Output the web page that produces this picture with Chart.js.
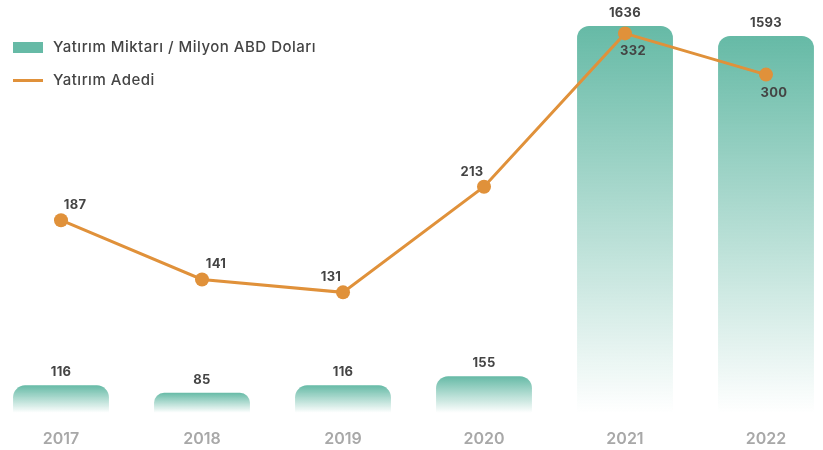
<!DOCTYPE html>
<html>
<head>
<meta charset="utf-8">
<script src="https://cdn.jsdelivr.net/npm/chart.js@4"></script>
<style>
  html, body { margin: 0; padding: 0; background: #fff; }
  #wrap { width: 823px; height: 450px; position: relative; }
</style>
</head>
<body>
<div id="wrap"><canvas id="barChart"></canvas></div>
<script>
let years = ['2017', '2018', '2019', '2020', '2021', '2022'];
let amounts = [116, 85, 116, 155, 1636, 1593];   // Yatırım Miktarı (milyon $)
let counts = [187, 141, 131, 213, 332, 300];     // Yatırım Adedi

let teal = '#66baa6';
let orange = '#e0913a';
let fontFamily = 'Inter, "Noto Sans", sans-serif';

// bar fill: teal at the top, fading to white at the baseline
function barGradient(context) {
    let chart = context.chart;
    if (!chart.chartArea || context.type !== 'data') return teal;
    let y = chart.scales.y;
    let top = y.getPixelForValue(context.raw);
    let bottom = y.getPixelForValue(0);
    let g = chart.ctx.createLinearGradient(0, top, 0, bottom);
    g.addColorStop(0, 'rgba(102,186,166,1)');
    g.addColorStop(1, 'rgba(102,186,166,0)');
    return g;
}

// value labels + legend drawn on the canvas
let labelPlugin = {
    id: 'labels',
    afterDatasetsDraw(chart) {
        let ctx = chart.ctx;
        let barMeta = chart.getDatasetMeta(0);
        let lineMeta = chart.getDatasetMeta(1);
        ctx.save();
        ctx.letterSpacing = '0.3px';
        ctx.font = '700 13px ' + fontFamily;
        ctx.fillStyle = '#444';
        ctx.textAlign = 'center';
        ctx.textBaseline = 'middle';
        barMeta.data.forEach((bar, i) => {
            ctx.fillText(amounts[i], bar.x, bar.y - 13);
        });
        lineMeta.data.forEach((pt, i) => {
            let inside = pt.y > barMeta.data[i].y;
            if (inside) {
                // point sits on a bar: label goes under it
                ctx.fillText(counts[i], pt.x + 8, pt.y + 18);
            } else {
                // keep the label away from the next segment
                let rising = i < counts.length - 1 && counts[i + 1] > counts[i];
                ctx.fillText(counts[i], pt.x + (rising ? -12 : 14), pt.y - 15);
            }
        });

        // legend
        ctx.letterSpacing = '0.5px';
        ctx.textAlign = 'left';
        ctx.font = '500 15px ' + fontFamily;
        ctx.fillStyle = teal;
        ctx.fillRect(13, 42, 30, 11);
        ctx.fillStyle = '#444';
        ctx.fillText(chart.data.datasets[0].label, 53, 47);
        ctx.fillStyle = orange;
        ctx.fillRect(13, 79, 30, 3);
        ctx.fillStyle = '#444';
        ctx.fillText(chart.data.datasets[1].label, 53, 80);
        ctx.restore();
    }
};

let ctx = document.getElementById('barChart').getContext('2d');

let chart = new Chart(ctx, {
    type: 'bar',
    data: {
        labels: years,
        datasets: [
            {
                type: 'bar',
                label: 'Yatırım Miktarı / Milyon ABD Doları',
                data: amounts,
                backgroundColor: barGradient,
                borderRadius: { topLeft: 12, topRight: 12 },
                borderSkipped: 'bottom',
                barPercentage: 1,
                categoryPercentage: 0.68,
                clip: false,
                yAxisID: 'y',
                order: 2
            },
            {
                type: 'line',
                label: 'Yatırım Adedi',
                data: counts,
                borderColor: orange,
                backgroundColor: orange,
                borderWidth: 3,
                pointRadius: 7,
                pointHoverRadius: 7,
                pointBorderWidth: 0,
                tension: 0,
                yAxisID: 'y2',
                order: 1
            }
        ]
    },
    options: {
        responsive: true,
        maintainAspectRatio: false,
        animation: false,
        layout: {
            padding: { left: 61, right: 57, top: 20, bottom: -16 }
        },
        plugins: {
            legend: { display: false },
            tooltip: { enabled: false }
        },
        scales: {
            x: {
                offset: false,
                grid: { display: false, drawTicks: false },
                border: { display: false },
                ticks: {
                    padding: 17,
                    color: '#a8a8a8',
                    font: { family: fontFamily, size: 16, weight: '600' }
                }
            },
            y: {
                display: false,
                min: 0,
                max: 1661
            },
            y2: {
                display: false,
                min: 37.5,
                max: 342.4
            }
        }
    },
    plugins: [labelPlugin]
});
</script>
</body>
</html>
